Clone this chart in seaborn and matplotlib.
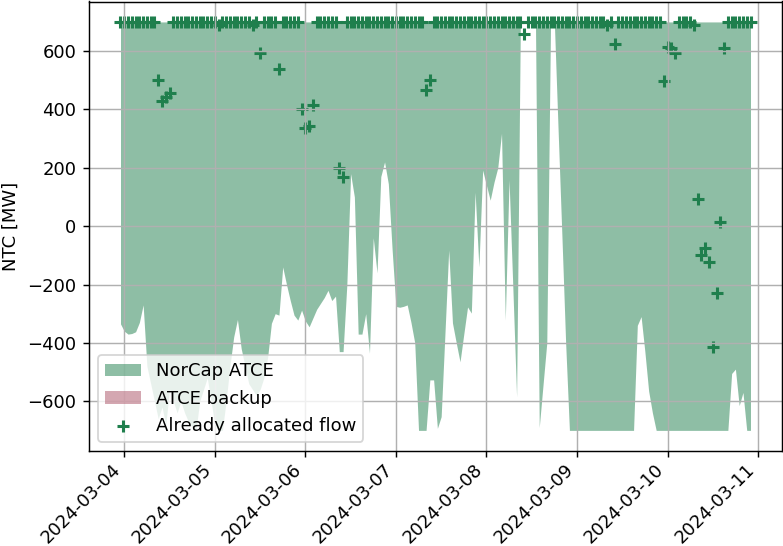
import numpy as np
import pandas as pd
import matplotlib
matplotlib.use("Agg")
import matplotlib.pyplot as plt
import matplotlib.dates as mdates
import seaborn as sns

# hourly values, first hour 2024-03-03 23:00 (UTC)
start_time = "2024-03-03 23:00"
n_hours = 168

# NorCap ATCE: upper bound is flat at 700 MW
atce_max = [700] * n_hours
atce_min = [
    -335, -360, -370, -368, -362, -330, -270, -480, -540, -600,
    -660, -620, -680, -560, -600, -640, -600, -640, -670, -690,
    -700, -600, -560, -520, -600, -680, -700, -700, -600, -480,
    -380, -320, -420, -480, -540, -560, -580, -560, -520, -450,
    -333, -300, -305, -140, -200, -255, -305, -322, -288, -325,
    -345, -315, -285, -265, -245, -220, -255, -240, -430, -430,
    -200, 180, 100, -370, -370, -300, -435, -40, -160, 170,
    220, 145, -80, -275, -278, -275, -270, -330, -400, -700,
    -700, -700, -527, -527, -693, -653, -370, -82, -332, -400,
    -465, -370, -277, -298, 116, -140, 192, 140, 89, 150,
    200, 318, -322, 158, -210, -585, 700, 700, 700, 700,
    700, -690, -545, -400, 700, 700, 330, -30, -400, -700,
    -700, -700, -700, -700, -700, -700, -700, -700, -700, -700,
    -700, -700, -700, -700, -700, -700, -700, -340, -310, -430,
    -565, -640, -700, -700, -700, -700, -700, -700, -700, -700,
    -700, -700, -700, -700, -700, -700, -700, -700, -700, -700,
    -700, -700, -505, -490, -615, -570, -700, -700,
]

# ATCE backup was not used in this week
backup_min = [np.nan] * n_hours
backup_max = [np.nan] * n_hours

allocated_flow = [
    700, 700, 700, 700, 700, 700, 700, 700, 700, 700,
    500, 428, 443, 455, 700, 700, 700, 700, 700, 700,
    700, 700, 700, 700, 700, 700, 690, 700, 700, 700,
    700, 700, 700, 700, 700, 688, 700, 595, 700, 700,
    700, 700, 540, 700, 700, 700, 700, 700, 400, 338,
    342, 415, 700, 700, 700, 700, 700, 700, 200, 170,
    700, 700, 700, 700, 700, 700, 700, 700, 700, 700,
    700, 700, 700, 700, 700, 700, 700, 700, 700, 700,
    700, 465, 500, 700, 700, 700, 700, 700, 700, 700,
    700, 700, 700, 700, 700, 700, 700, 700, 700, 700,
    700, 700, 700, 700, 700, 700, 700, 660, 700, 700,
    700, 700, 700, 700, 700, 700, 700, 700, 700, 700,
    700, 700, 700, 700, 700, 700, 700, 700, 700, 690,
    700, 625, 700, 700, 700, 700, 700, 700, 700, 700,
    700, 700, 700, 700, 497, 615, 612, 595, 700, 700,
    700, 700, 690, 92, -100, -76, -124, -413, -228, 14,
    612, 700, 700, 700, 700, 700, 700, 700,
]

norcap_color = "#1f7f4d"
backup_color = "#ab5165"


def main():
    times = pd.date_range(start_time, periods=n_hours, freq="h")
    df = pd.DataFrame({
        "time": times,
        "atce_min": atce_min,
        "atce_max": atce_max,
        "backup_min": backup_min,
        "backup_max": backup_max,
        "allocated": allocated_flow,
    })

    dpi = 130
    fig, ax = plt.subplots(figsize=(783 / dpi, 546 / dpi), dpi=dpi)

    ax.fill_between(df["time"], df["atce_min"], df["atce_max"],
                    color=norcap_color, alpha=0.5, linewidth=0,
                    label="NorCap ATCE")
    ax.fill_between(df["time"], df["backup_min"], df["backup_max"],
                    color=backup_color, alpha=0.5, linewidth=0,
                    label="ATCE backup")
    sns.scatterplot(data=df, x="time", y="allocated", marker="+", s=42,
                    linewidth=1.7, color=norcap_color,
                    label="Already allocated flow", ax=ax)

    ax.set_ylabel("NTC [MW]")
    ax.set_xlabel("")
    ax.grid(True)
    ax.xaxis.set_major_locator(mdates.DayLocator())
    ax.xaxis.set_major_formatter(mdates.DateFormatter("%Y-%m-%d"))
    ax.tick_params(axis="x", pad=2)
    plt.setp(ax.get_xticklabels(), rotation=45, ha="right")
    ax.legend(loc="lower left")

    fig.subplots_adjust(left=89 / 783, right=782 / 783,
                        top=1 - 1.5 / 546, bottom=1 - 450.8 / 546)
    fig.savefig("out.png", dpi=dpi)


if __name__ == "__main__":
    main()
